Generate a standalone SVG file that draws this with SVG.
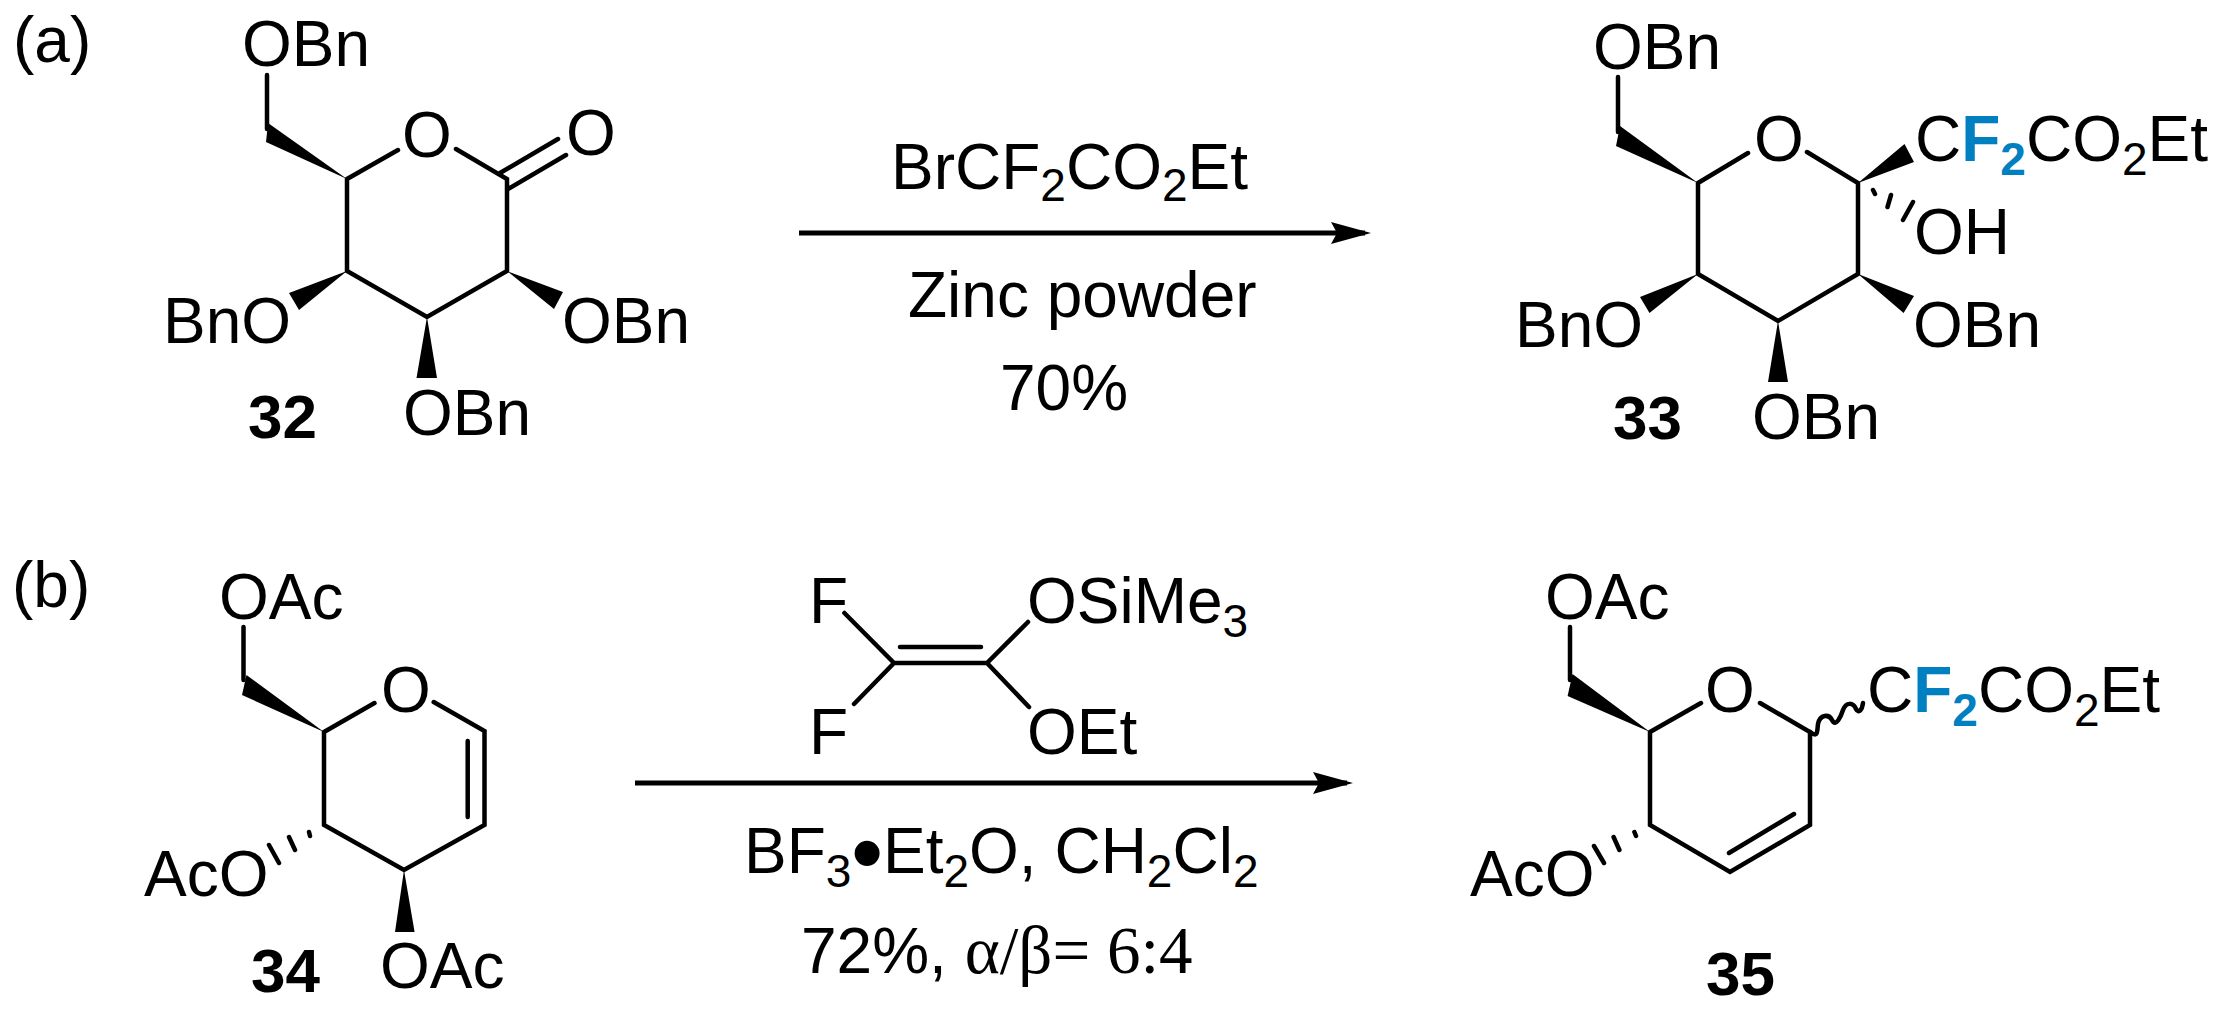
<svg xmlns="http://www.w3.org/2000/svg" width="2227" height="1013" viewBox="0 0 2227 1013">
<style>
text{font-family:"Liberation Sans",Arial,sans-serif;font-size:64px;fill:#000}
.n{font-weight:700;font-size:62px}
.s{font-size:46px}
.h{font-family:"Liberation Serif","Times New Roman",serif;font-size:67px}
.f{font-weight:700;fill:#0080c0}
.d{font-size:92px}
.b{fill:none;stroke:#000;stroke-width:4.5;stroke-linecap:round;stroke-linejoin:miter}
.w{fill:#000;stroke:none}
.a{stroke:#000;stroke-width:5;fill:none}
</style>
<defs>
<marker id="head" markerUnits="userSpaceOnUse" markerWidth="41" markerHeight="24" refX="34" refY="12" orient="auto"><path d="M40 12L0 1L6 12L0 23Z" fill="#000"/></marker>
</defs>
<rect width="2227" height="1013" fill="#fff"/>
<g id="label-a"><text x="13" y="62">(a)</text></g>
<g id="label-b"><text x="12" y="607">(b)</text></g>
<g id="compound-32">
<path class="b" d="M267 129V75M347 179L398 150M456 149L507 179V271L427 317L347 271V179M500 173L558 139M508 189L566 155"/>
<path class="w" d="M347 179L268 123L266 142ZM347 271L289 293L299 310ZM507 271L563 292L554 309ZM427 317L416.500 378H437Z"/>
<text x="242" y="66">OBn</text><text x="402" y="157">O</text><text x="566" y="155">O</text>
<text x="163" y="343">BnO</text><text x="562" y="343">OBn</text><text x="403" y="435">OBn</text>
<text class="n" x="248" y="438">32</text>
</g>
<g id="compound-33">
<path class="b" d="M1618 132V77M1698 183L1748 153M1807 152L1858 183V274L1778 321L1698 274V183M1873 190L1875 194M1891 195L1887.500 207M1913 202L1903 220"/>
<path class="w" d="M1698 183L1620 126L1616 146ZM1858 183L1904.500 144L1914 162ZM1858 274L1914 296L1903.600 313ZM1698 274L1640 297L1649.500 313ZM1778 321L1768 382H1788Z"/>
<text x="1593" y="69">OBn</text><text x="1754" y="161">O</text>
<text x="1915" y="161">C<tspan class="f">F</tspan><tspan class="f s" dy="14">2</tspan><tspan dy="-14">CO</tspan><tspan class="s" dy="14">2</tspan><tspan dy="-14">Et</tspan></text>
<text x="1914" y="254">OH</text><text x="1515" y="347">BnO</text><text x="1913" y="347">OBn</text><text x="1752" y="439">OBn</text>
<text class="n" x="1613" y="439">33</text>
</g>
<g id="compound-34">
<path class="b" d="M243.500 680V627M324 732L374.500 703M433.700 702L484.500 731V825L404 870L324 825V732M467.700 741V817M309 832L310 836M289 837L295 850M269 845L279 863"/>
<path class="w" d="M324 732L246.500 675L242 695ZM404 870L395 932H414.600Z"/>
<text x="219" y="619">OAc</text><text x="381" y="712">O</text><text x="144" y="896">AcO</text><text x="380" y="988">OAc</text>
<text class="n" x="251" y="992">34</text>
</g>
<g id="compound-35">
<path class="b" d="M1570 680V627M1650 732L1701 703M1760 703L1810 732V825L1730 872L1650 825V732M1729 853L1794 814M1634.400 832L1636 836M1613.600 837L1619.400 850M1594 846L1604 863"/>
<path class="b" d="M1810 732C1818 738 1817 732 1818 724C1820 714 1829 714 1832 720C1836 728 1841 716 1843 710C1846 702 1853 702 1856 709C1859 714 1862 710 1863 703"/>
<path class="w" d="M1650 732L1572.500 674L1567.600 696Z"/>
<text x="1545" y="619">OAc</text><text x="1705" y="712">O</text><text x="1470" y="896">AcO</text>
<text x="1867" y="712">C<tspan class="f">F</tspan><tspan class="f s" dy="14">2</tspan><tspan dy="-14">CO</tspan><tspan class="s" dy="14">2</tspan><tspan dy="-14">Et</tspan></text>
<text class="n" x="1706" y="995">35</text>
</g>
<g id="reagents-a">
<text x="891" y="189">BrCF<tspan class="s" dy="12">2</tspan><tspan dy="-12">CO</tspan><tspan class="s" dy="12">2</tspan><tspan dy="-12">Et</tspan></text>
<text x="908" y="317">Zinc powder</text>
<text x="1000" y="410">70%</text>
</g>
<g id="reagents-b">
<path class="b" d="M844.400 613L894 663L854 704M894 663H987L1028 622M987 663L1029 707M900 647H981"/>
<text x="809" y="623">F</text><text x="809" y="754">F</text>
<text x="1027" y="623">OSiMe<tspan class="s" dy="14">3</tspan></text>
<text x="1027" y="754">OEt</text>
<text x="744" y="873">BF<tspan class="s" dy="14">3</tspan><tspan class="d" x="851" dy="-3">•</tspan><tspan x="883" dy="-11">Et</tspan><tspan class="s" dy="14">2</tspan><tspan dy="-14">O, CH</tspan><tspan class="s" dy="14">2</tspan><tspan dy="-14">Cl</tspan><tspan class="s" dy="14">2</tspan></text>
<text x="801" y="973">72%, <tspan class="h">α/β= 6:4</tspan></text>
</g>
<g id="connectors">
<path class="a" marker-end="url(#head)" d="M799 233H1365"/>
<path class="a" marker-end="url(#head)" d="M635 783H1347"/>
</g>
</svg>
